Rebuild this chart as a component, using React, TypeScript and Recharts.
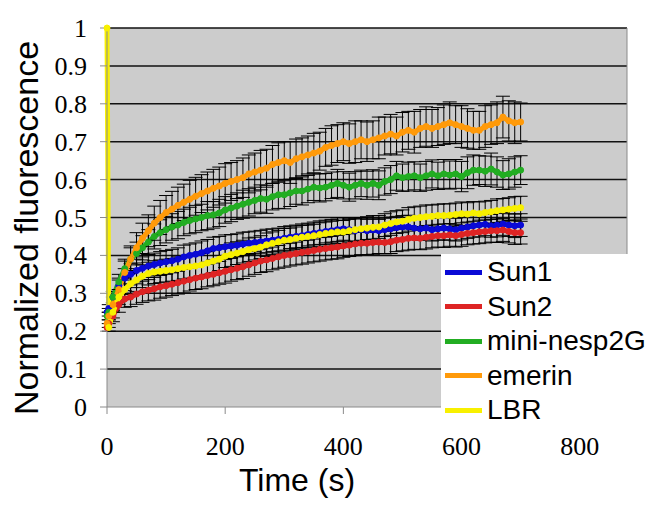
import React from "react";
import { ErrorBar, Legend, Line, LineChart, ReferenceArea, ReferenceLine, XAxis, YAxis } from "recharts";

const times = [
  0, 3,
  10, 20, 30, 40, 50, 60, 70, 80, 90, 100,
  110, 120, 130, 140, 150, 160, 170, 180, 190, 200,
  210, 220, 230, 240, 250, 260, 270, 280, 290, 300,
  310, 320, 330, 340, 350, 360, 370, 380, 390, 400,
  410, 420, 430, 440, 450, 460, 470, 480, 490, 500,
  510, 520, 530, 540, 550, 560, 570, 580, 590, 600,
  610, 620, 630, 640, 650, 660, 670, 680, 690, 700,
];

const sun1 = [
  0.25, 0.26,
  0.29, 0.32, 0.34, 0.35, 0.36, 0.366, 0.372, 0.376, 0.38, 0.383,
  0.386, 0.39, 0.396, 0.4, 0.403, 0.407, 0.412, 0.418, 0.42, 0.423,
  0.425, 0.427, 0.43, 0.432, 0.434, 0.436, 0.438, 0.44, 0.442, 0.445,
  0.448, 0.45, 0.452, 0.455, 0.458, 0.46, 0.463, 0.465, 0.468, 0.47,
  0.468, 0.465, 0.468, 0.465, 0.467, 0.465, 0.468, 0.47, 0.473, 0.475,
  0.475, 0.472, 0.47, 0.472, 0.468, 0.47, 0.472, 0.47, 0.468, 0.472,
  0.475, 0.478, 0.48, 0.482, 0.478, 0.48, 0.483, 0.48, 0.478, 0.48,
];
const sun1Err = [
  0, 0.01,
  0.015, 0.02, 0.025, 0.028, 0.03, 0.03, 0.03, 0.03, 0.03, 0.03,
  0.03, 0.03, 0.031, 0.03, 0.03, 0.031, 0.03, 0.03, 0.03, 0.031,
  0.03, 0.03, 0.031, 0.03, 0.03, 0.03, 0.031, 0.03, 0.03, 0.031,
  0.03, 0.03, 0.031, 0.03, 0.03, 0.031, 0.03, 0.03, 0.031, 0.03,
  0.03, 0.031, 0.03, 0.03, 0.031, 0.03, 0.03, 0.031, 0.03, 0.03,
  0.031, 0.03, 0.03, 0.031, 0.03, 0.03, 0.031, 0.03, 0.03, 0.031,
  0.03, 0.03, 0.031, 0.03, 0.03, 0.031, 0.03, 0.03, 0.031, 0.03,
];

const sun2 = [
  0.21, 0.22,
  0.24, 0.27, 0.285, 0.29, 0.298, 0.304, 0.308, 0.312, 0.317, 0.32,
  0.324, 0.328, 0.332, 0.336, 0.34, 0.343, 0.347, 0.35, 0.354, 0.358,
  0.362, 0.366, 0.37, 0.375, 0.38, 0.385, 0.388, 0.392, 0.396, 0.4,
  0.402, 0.405, 0.408, 0.41, 0.413, 0.416, 0.418, 0.42, 0.422, 0.425,
  0.427, 0.43, 0.432, 0.432, 0.434, 0.435, 0.434, 0.436, 0.44, 0.442,
  0.445, 0.446, 0.445, 0.448, 0.45, 0.452, 0.452, 0.454, 0.452, 0.455,
  0.458, 0.46, 0.462, 0.463, 0.465, 0.465, 0.467, 0.463, 0.46, 0.46,
];
const sun2Err = [
  0, 0.01,
  0.015, 0.02, 0.022, 0.025, 0.027, 0.028, 0.028, 0.03, 0.03, 0.03,
  0.03, 0.03, 0.031, 0.03, 0.03, 0.031, 0.03, 0.03, 0.03, 0.031,
  0.03, 0.03, 0.031, 0.03, 0.03, 0.03, 0.031, 0.03, 0.03, 0.031,
  0.03, 0.03, 0.031, 0.03, 0.03, 0.031, 0.03, 0.03, 0.031, 0.03,
  0.03, 0.031, 0.03, 0.03, 0.031, 0.03, 0.03, 0.031, 0.03, 0.03,
  0.031, 0.03, 0.03, 0.031, 0.03, 0.03, 0.031, 0.03, 0.03, 0.031,
  0.03, 0.03, 0.031, 0.03, 0.03, 0.031, 0.03, 0.03, 0.031, 0.03,
];

const nesp = [
  0.24, 0.25,
  0.29, 0.33, 0.365, 0.39, 0.405, 0.42, 0.435, 0.45, 0.46, 0.468,
  0.475, 0.48, 0.487, 0.492, 0.496, 0.5, 0.505, 0.507, 0.512, 0.52,
  0.525, 0.53, 0.535, 0.54, 0.545, 0.55, 0.548, 0.555, 0.56, 0.56,
  0.565, 0.57, 0.57, 0.575, 0.58, 0.578, 0.58, 0.585, 0.59, 0.585,
  0.58, 0.585, 0.59, 0.585, 0.59, 0.585, 0.595, 0.6, 0.61, 0.605,
  0.608, 0.61, 0.605, 0.61, 0.615, 0.61, 0.615, 0.612, 0.615, 0.608,
  0.618, 0.625, 0.625, 0.622, 0.628, 0.62, 0.612, 0.615, 0.62, 0.625,
];
const nespErr = [
  0, 0.01,
  0.015, 0.02, 0.025, 0.03, 0.03, 0.032, 0.033, 0.033, 0.034, 0.035,
  0.035, 0.036, 0.035, 0.035, 0.036, 0.035, 0.037, 0.035, 0.036, 0.035,
  0.036, 0.035, 0.037, 0.036, 0.035, 0.036, 0.037, 0.035, 0.036, 0.037,
  0.036, 0.035, 0.037, 0.036, 0.035, 0.037, 0.036, 0.035, 0.037, 0.036,
  0.037, 0.036, 0.035, 0.037, 0.036, 0.038, 0.036, 0.037, 0.038, 0.036,
  0.038, 0.037, 0.036, 0.038, 0.037, 0.036, 0.038, 0.037, 0.038, 0.04,
  0.042, 0.04, 0.038, 0.04, 0.042, 0.04, 0.038, 0.04, 0.04, 0.038,
];

const emerin = [
  0.22, 0.24,
  0.27, 0.31, 0.355, 0.39, 0.42, 0.445, 0.465, 0.485, 0.5, 0.513,
  0.522, 0.532, 0.54, 0.548, 0.556, 0.563, 0.57, 0.577, 0.583, 0.59,
  0.595, 0.6, 0.605, 0.615, 0.62, 0.625, 0.63, 0.64, 0.645, 0.65,
  0.645, 0.655, 0.66, 0.665, 0.67, 0.675, 0.685, 0.69, 0.695, 0.7,
  0.695, 0.7, 0.705, 0.7, 0.705, 0.71, 0.715, 0.72, 0.715, 0.725,
  0.73, 0.725, 0.735, 0.74, 0.735, 0.74, 0.745, 0.75, 0.745, 0.74,
  0.735, 0.73, 0.73, 0.74, 0.745, 0.75, 0.765, 0.755, 0.75, 0.752,
];
const emerinErr = [
  0, 0.01,
  0.02, 0.025, 0.03, 0.035, 0.04, 0.04, 0.042, 0.045, 0.045, 0.045,
  0.047, 0.048, 0.048, 0.05, 0.05, 0.05, 0.05, 0.05, 0.05, 0.052,
  0.05, 0.05, 0.052, 0.05, 0.05, 0.052, 0.05, 0.05, 0.052, 0.05,
  0.055, 0.052, 0.05, 0.05, 0.052, 0.05, 0.05, 0.052, 0.05, 0.05,
  0.052, 0.055, 0.05, 0.052, 0.05, 0.055, 0.05, 0.052, 0.05, 0.052,
  0.05, 0.055, 0.05, 0.052, 0.05, 0.05, 0.052, 0.055, 0.05, 0.055,
  0.052, 0.05, 0.05, 0.055, 0.052, 0.055, 0.055, 0.053, 0.055, 0.05,
];

const lbr = [
  1.0, 0.21,
  0.25, 0.29, 0.31, 0.325, 0.335, 0.345, 0.352, 0.356, 0.358, 0.36,
  0.362, 0.365, 0.368, 0.37, 0.372, 0.375, 0.38, 0.385, 0.39, 0.398,
  0.402, 0.406, 0.41, 0.415, 0.418, 0.422, 0.428, 0.432, 0.436, 0.44,
  0.442, 0.445, 0.448, 0.45, 0.452, 0.455, 0.458, 0.46, 0.462, 0.462,
  0.465, 0.468, 0.47, 0.472, 0.474, 0.475, 0.48, 0.484, 0.488, 0.49,
  0.495, 0.498, 0.5, 0.502, 0.503, 0.505, 0.505, 0.506, 0.508, 0.51,
  0.509, 0.512, 0.51, 0.513, 0.515, 0.518, 0.52, 0.522, 0.524, 0.526,
];
const lbrErr = [
  0, 0.01,
  0.015, 0.02, 0.025, 0.028, 0.03, 0.03, 0.03, 0.03, 0.03, 0.03,
  0.03, 0.031, 0.03, 0.03, 0.031, 0.03, 0.03, 0.031, 0.03, 0.03,
  0.031, 0.03, 0.03, 0.031, 0.03, 0.03, 0.031, 0.03, 0.03, 0.031,
  0.03, 0.03, 0.031, 0.03, 0.03, 0.031, 0.03, 0.03, 0.031, 0.03,
  0.03, 0.031, 0.03, 0.03, 0.031, 0.03, 0.03, 0.031, 0.03, 0.03,
  0.031, 0.03, 0.03, 0.031, 0.03, 0.03, 0.031, 0.03, 0.03, 0.031,
  0.03, 0.03, 0.031, 0.03, 0.03, 0.031, 0.03, 0.03, 0.031, 0.03,
];

const xTicks = [0, 200, 400, 600, 800];
const yTicks = [0, 0.1, 0.2, 0.3, 0.4, 0.5, 0.6, 0.7, 0.8, 0.9, 1];
const gridLines = [0.1, 0.2, 0.3, 0.4, 0.5, 0.6, 0.7, 0.8, 0.9, 1];

const series = [
  { key: "sun1", name: "Sun1", color: "#0a0ad6", values: sun1, err: sun1Err },
  { key: "sun2", name: "Sun2", color: "#de2424", values: sun2, err: sun2Err },
  { key: "nesp", name: "mini-nesp2G", color: "#22ad22", values: nesp, err: nespErr },
  { key: "emerin", name: "emerin", color: "#ff9a0a", values: emerin, err: emerinErr },
  { key: "lbr", name: "LBR", color: "#f8f000", values: lbr, err: lbrErr },
];

const data = times.map((t, i) => {
  const row: Record<string, number> = { t };
  series.forEach((s) => {
    row[s.key] = s.values[i];
    row[s.key + "Err"] = s.err[i];
  });
  return row;
});

const sans = "'Liberation Sans', Arial, Helvetica, sans-serif";
const serif = "'Liberation Serif', 'DejaVu Serif', 'Times New Roman', serif";

// serif tick labels, drawn by hand so the font family is kept
function XTick({ x, y, payload }: any) {
  return (
    <text x={x} y={y} dy={18} textAnchor="middle" style={{ fontFamily: serif, fontSize: 26 }} fill="#000">
      {String(payload.value)}
    </text>
  );
}

function YTick({ x, y, payload }: any) {
  return (
    <text x={x} y={y} dy={9} textAnchor="end" style={{ fontFamily: serif, fontSize: 26 }} fill="#000">
      {String(payload.value)}
    </text>
  );
}

function LegendBox() {
  return (
    <div style={{ background: "#fff", width: 215, height: 174, paddingTop: 1, boxSizing: "border-box" }}>
      {series.map((s) => (
        <div key={s.key} style={{ display: "flex", alignItems: "center", height: 34.5 }}>
          <div style={{ width: 37, height: 5, background: s.color, marginLeft: 4, marginRight: 5, flex: "none" }} />
          <span style={{ fontFamily: sans, fontSize: 28, lineHeight: 1, color: "#000", whiteSpace: "nowrap" }}>
            {s.name}
          </span>
        </div>
      ))}
    </div>
  );
}

export default function App() {
  return (
    <div style={{ position: "absolute", left: 0, top: 0, background: "#fff" }}>
      <LineChart width={664} height={511} data={data} margin={{ top: 28, right: 37, bottom: 0, left: 0 }}>
        <ReferenceArea x1={0} x2={880} y1={0} y2={1} fill="#cccccc" fillOpacity={1} stroke="none" />
        {gridLines.map((v) => (
          <ReferenceLine key={v} y={v} stroke="#111" strokeWidth={1.5} />
        ))}
        <ReferenceLine x={880} stroke="#8a8a8a" strokeWidth={1} />
        <XAxis
          dataKey="t"
          type="number"
          domain={[0, 880]}
          ticks={xTicks}
          height={104}
          tickSize={7}
          tickMargin={23}
          stroke="#8a8a8a"
          tick={<XTick />}
          label={{
            content: () => (
              <text x={297} y={491} textAnchor="middle" style={{ fontFamily: sans, fontSize: 32 }} fill="#000">
                Time (s)
              </text>
            ),
          }}
        />
        <YAxis
          type="number"
          domain={[0, 1]}
          ticks={yTicks}
          width={107}
          tickSize={7}
          tickMargin={13}
          stroke="#8a8a8a"
          tick={<YTick />}
          label={{
            content: () => (
              <text
                x={38}
                y={228}
                transform="rotate(-90 38 228)"
                textAnchor="middle"
                style={{ fontFamily: sans, fontSize: 34 }}
                fill="#000"
              >
                Normalized fluorescence
              </text>
            ),
          }}
        />
        {series.map((s) => (
          <Line
            key={s.key}
            dataKey={s.key}
            name={s.name}
            type="linear"
            stroke={s.color}
            strokeWidth={5}
            dot={{ r: 3, fill: s.color, stroke: s.color, strokeWidth: 1 }}
            isAnimationActive={false}
          >
            <ErrorBar dataKey={s.key + "Err"} width={7} stroke="#000" strokeWidth={1} direction="y" isAnimationActive={false} />
          </Line>
        ))}
        <Legend
          content={<LegendBox />}
          layout="vertical"
          align="center"
          verticalAlign="middle"
          wrapperStyle={{ left: 441, top: 254, width: 215, height: 174 }}
        />
      </LineChart>
    </div>
  );
}
